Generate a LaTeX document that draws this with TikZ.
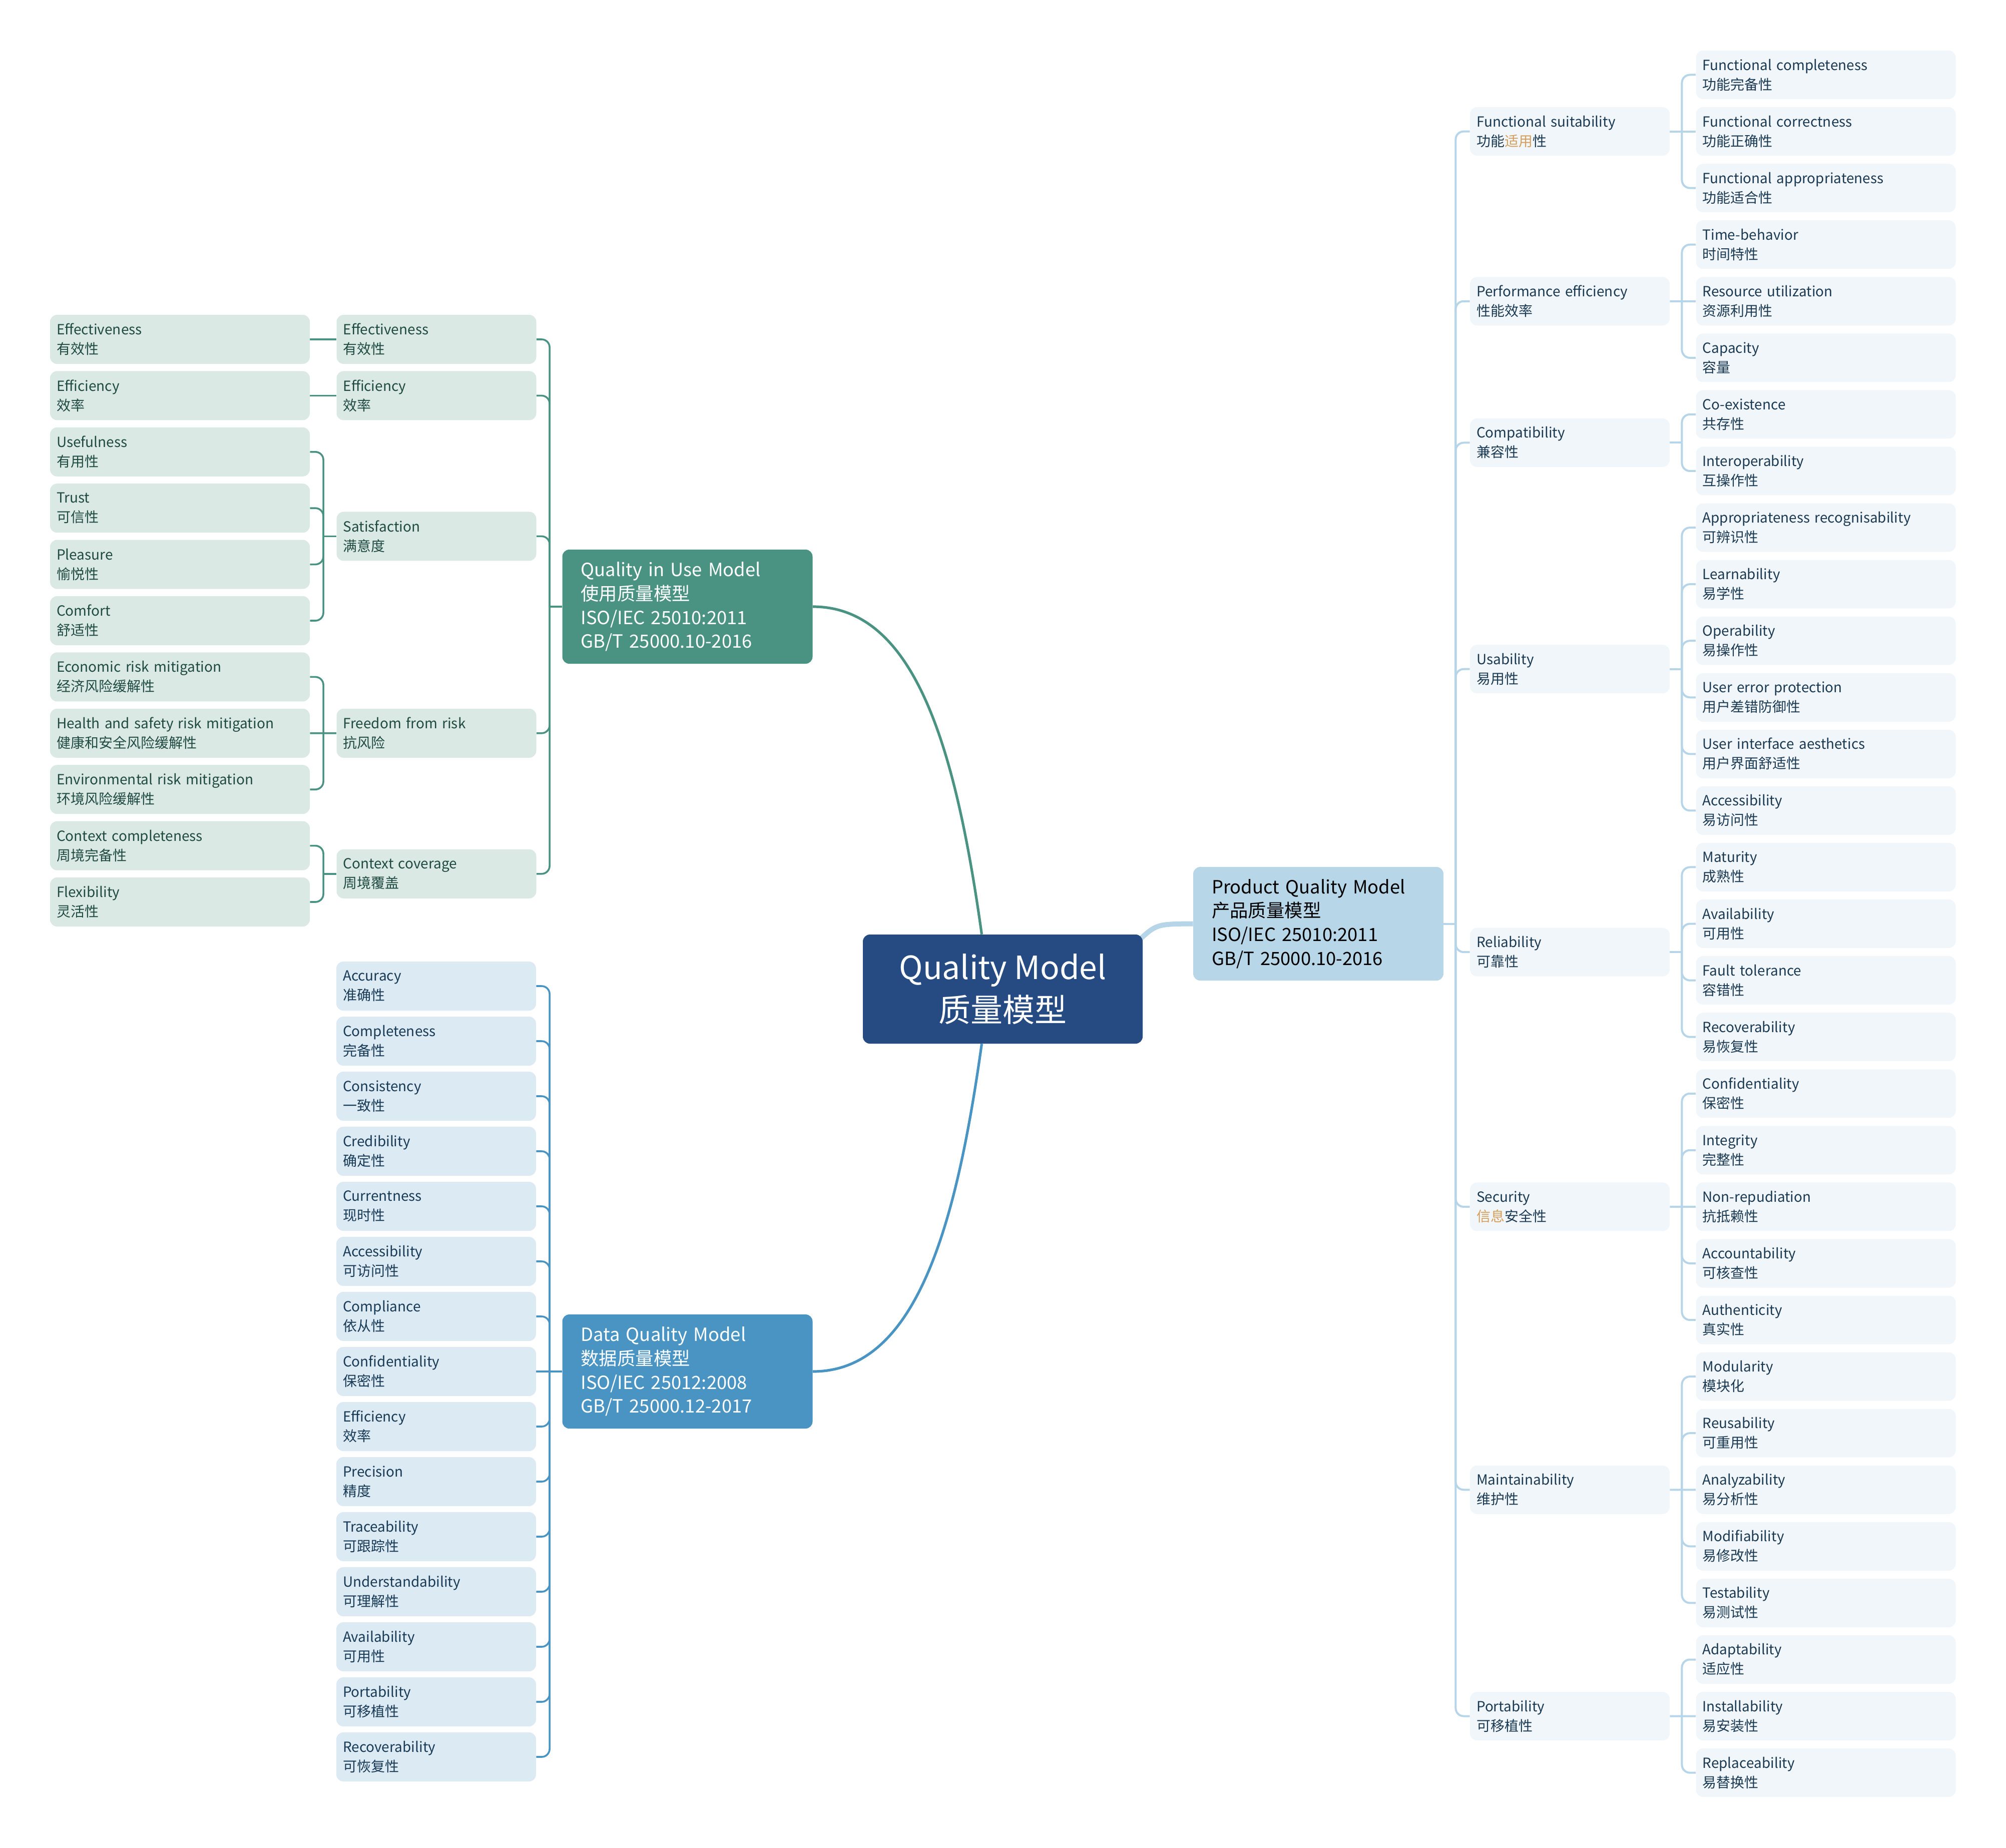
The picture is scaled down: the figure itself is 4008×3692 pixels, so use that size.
\documentclass[tikz,border=0pt]{standalone}
\usepackage{fontspec}
\setmainfont{Noto Sans CJK SC}
\definecolor{cenfill}{HTML}{254B82}
\definecolor{qfill}{HTML}{4A9382}
\definecolor{dfill}{HTML}{4A94C4}
\definecolor{pfill}{HTML}{B7D6E8}
\definecolor{qleaf}{HTML}{DBE9E5}
\definecolor{dleaf}{HTML}{DCEAF3}
\definecolor{pleaf}{HTML}{F1F6FB}
\definecolor{qtext}{HTML}{1F4A40}
\definecolor{dtext}{HTML}{183A55}
\definecolor{ptext}{HTML}{1B3A52}
\definecolor{porange}{HTML}{D49F5A}
\definecolor{pline}{HTML}{B6D5E8}
\pgfdeclarelayer{bg}
\pgfsetlayers{bg,main}
\begin{document}
\begin{tikzpicture}[x=0.5pt,y=-0.5pt,
  leaf/.style={rounded corners=7pt, inner xsep=6.5pt, inner ysep=0pt, align=left, minimum height=49pt, font=\fontsize{14}{19.5}\selectfont},
  wideleaf/.style={leaf, text width=246.5pt},
  narrowleaf/.style={leaf, text width=186.5pt},
  qw/.style={wideleaf, fill=qleaf, text=qtext},
  qn/.style={narrowleaf, fill=qleaf, text=qtext},
  dn/.style={narrowleaf, fill=dleaf, text=dtext},
  pw/.style={wideleaf, fill=pleaf, text=ptext, minimum height=48.5pt},
  pn/.style={narrowleaf, fill=pleaf, text=ptext, minimum height=48.5pt},
  model/.style={rounded corners=7pt, inner xsep=18.5pt, inner ysep=0pt, align=left, text width=213pt, minimum height=114pt, font=\fontsize{18.2}{23.9}\selectfont},
  cenbox/.style={rounded corners=7pt, fill=cenfill, text=white, align=center, minimum width=279.5pt, minimum height=109pt, font=\fontsize{32}{42.5}\selectfont},
  qtree/.style={draw=qfill, line width=1.8pt},
  dtree/.style={draw=dfill, line width=1.8pt},
  ptree/.style={draw=pline, line width=2pt},
  rc/.style={rounded corners=8pt}
]
\useasboundingbox (0,0) rectangle (4008,3692);

% ---------- central ----------
\node[cenbox] (cen) at (2003.5,1976) {Quality Model\\质量模型};

% ---------- level 1 ----------
\node[model, fill=qfill, text=white] (qiu) at (1373.5,1212) {Quality in Use Model\\使用质量模型\\ISO/IEC 25010:2011\\GB/T 25000.10-2016};
\node[model, fill=dfill, text=white] (dq) at (1373.5,2740) {Data Quality Model\\数据质量模型\\ISO/IEC 25012:2008\\GB/T 25000.12-2017};
\node[model, fill=pfill, text=black, minimum height=113.5pt] (pq) at (2634,1845.5) {Product Quality Model\\产品质量模型\\ISO/IEC 25010:2011\\GB/T 25000.10-2016};

% ---------- Quality in use ----------
\node[qn] (qa) at (872,678) {Effectiveness\\有效性};
\node[qn] (qb) at (872,790.4) {Efficiency\\效率};
\node[qn] (qc) at (872,1071.4) {Satisfaction\\满意度};
\node[qn] (qd) at (872,1464.8) {Freedom from risk\\抗风险};
\node[qn] (qe) at (872,1745.8) {Context coverage\\周境覆盖};
\foreach \en/\cn [count=\i from 0] in {Effectiveness/有效性, Efficiency/效率, Usefulness/有用性, Trust/可信性, Pleasure/愉悦性, Comfort/舒适性, Economic risk mitigation/经济风险缓解性, Health and safety risk mitigation/健康和安全风险缓解性, Environmental risk mitigation/环境风险缓解性, Context completeness/周境完备性, Flexibility/灵活性}
  \node[qw] (q\i) at (359.5,{678+112.4*\i}) {\en\\\cn};

% ---------- Data quality ----------
\foreach \en/\cn [count=\i from 0] in {Accuracy/准确性, Completeness/完备性, Consistency/一致性, Credibility/确定性, Currentness/现时性, Accessibility/可访问性, Compliance/依从性, Confidentiality/保密性, Efficiency/效率, Precision/精度, Traceability/可跟踪性, Understandability/可理解性, Availability/可用性, Portability/可移植性, Recoverability/可恢复性}
  \node[dn] (d\i) at (871.5,{1970+110*\i}) {\en\\\cn};

% ---------- Product quality ----------
\node[pn] (pa) at (3136.5,262.57) {Functional suitability\\功能\textcolor{porange}{适用}性};
\node[pn] (pb) at (3136.5,601.78) {Performance efficiency\\性能效率};
\node[pn] (pc) at (3136.5,884.455) {Compatibility\\兼容性};
\node[pn] (pd) at (3136.5,1336.735) {Usability\\易用性};
\node[pn] (pe) at (3136.5,1902.085) {Reliability\\可靠性};
\node[pn] (pf) at (3136.5,2410.9) {Security\\\textcolor{porange}{信息}安全性};
\node[pn] (pg) at (3136.5,2976.25) {Maintainability\\维护性};
\node[pn] (ph) at (3136.5,3428.53) {Portability\\可移植性};
\foreach \en/\cn [count=\i from 0] in {Functional completeness/功能完备性, Functional correctness/功能正确性, Functional appropriateness/功能适合性, Time-behavior/时间特性, Resource utilization/资源利用性, Capacity/容量, Co-existence/共存性, Interoperability/互操作性, Appropriateness recognisability/可辨识性, Learnability/易学性, Operability/易操作性, User error protection/用户差错防御性, User interface aesthetics/用户界面舒适性, Accessibility/易访问性, Maturity/成熟性, Availability/可用性, Fault tolerance/容错性, Recoverability/易恢复性, Confidentiality/保密性, Integrity/完整性, Non-repudiation/抗抵赖性, Accountability/可核查性, Authenticity/真实性, Modularity/模块化, Reusability/可重用性, Analyzability/易分析性, Modifiability/易修改性, Testability/易测试性, Adaptability/适应性, Installability/易安装性, Replaceability/易替换性}
  \node[pw] (p\i) at (3648,{149.5+113.07*\i}) {\en\\\cn};

% ---------- junctions ----------
\coordinate (qJ) at ([xshift=-12.5pt]qiu.west);
\coordinate (dJ) at ([xshift=-12.5pt]dq.west);
\coordinate (pJ) at ([xshift=12pt]pq.east);
\coordinate (qcJ) at ([xshift=-13pt]qc.west);
\coordinate (qdJ) at ([xshift=-13pt]qd.west);
\coordinate (qeJ) at ([xshift=-13pt]qe.west);
\foreach \n in {pa,pb,pc,pd,pe,pf,pg,ph}
  \coordinate (\n J) at ([xshift=12pt]\n.east);

\begin{pgfonlayer}{bg}
% central connectors
\draw[draw=qfill, line width=2.6pt] (qiu.east) .. controls (1830,1212) and (1910,1500) .. ([xshift=-21pt]cen.north);
\draw[draw=dfill, line width=2.6pt] (dq.east) .. controls (1830,2740) and (1910,2452) .. ([xshift=-21pt]cen.south);
\draw[draw=pline, line width=5pt] ([xshift=-6pt,yshift=-8pt]cen.north east) .. controls (2310,1846) .. (pq.west);

% quality in use tree
\draw[qtree] (qiu.west) -- (qJ);
\foreach \n in {qa,qb,qc,qd,qe}
  \draw[qtree, rc] (qJ) |- (\n.east);
\draw[qtree] (qa.west) -- (q0.east);
\draw[qtree] (qb.west) -- (q1.east);
\draw[qtree] (qc.west) -- (qcJ);
\foreach \n in {q2,q3,q4,q5}
  \draw[qtree, rc] (qcJ) |- (\n.east);
\draw[qtree] (qd.west) -- (q7.east);
\foreach \n in {q6,q8}
  \draw[qtree, rc] (qdJ) |- (\n.east);
\draw[qtree] (qe.west) -- (qeJ);
\foreach \n in {q9,q10}
  \draw[qtree, rc] (qeJ) |- (\n.east);

% data quality tree
\draw[dtree] (dq.west) -- (d7.east);
\foreach \n in {d0,d1,d2,d3,d4,d5,d6,d8,d9,d10,d11,d12,d13,d14}
  \draw[dtree, rc] (dJ) |- (\n.east);

% product quality tree
\draw[ptree] (pq.east) -- (pJ);
\foreach \n in {pa,pb,pc,pd,pe,pf,pg,ph}
  \draw[ptree, rc] (pJ) |- (\n.west);
\draw[ptree] (pa.east) -- (p1.west);
\foreach \n in {p0,p2} \draw[ptree, rc] (paJ) |- (\n.west);
\draw[ptree] (pb.east) -- (p4.west);
\foreach \n in {p3,p5} \draw[ptree, rc] (pbJ) |- (\n.west);
\draw[ptree] (pc.east) -- (pcJ);
\foreach \n in {p6,p7} \draw[ptree, rc] (pcJ) |- (\n.west);
\draw[ptree] (pd.east) -- (pdJ);
\foreach \n in {p8,p9,p10,p11,p12,p13} \draw[ptree, rc] (pdJ) |- (\n.west);
\draw[ptree] (pe.east) -- (peJ);
\foreach \n in {p14,p15,p16,p17} \draw[ptree, rc] (peJ) |- (\n.west);
\draw[ptree] (pf.east) -- (p20.west);
\foreach \n in {p18,p19,p21,p22} \draw[ptree, rc] (pfJ) |- (\n.west);
\draw[ptree] (pg.east) -- (p25.west);
\foreach \n in {p23,p24,p26,p27} \draw[ptree, rc] (pgJ) |- (\n.west);
\draw[ptree] (ph.east) -- (p29.west);
\foreach \n in {p28,p30} \draw[ptree, rc] (phJ) |- (\n.west);
\end{pgfonlayer}
\end{tikzpicture}
\end{document}
